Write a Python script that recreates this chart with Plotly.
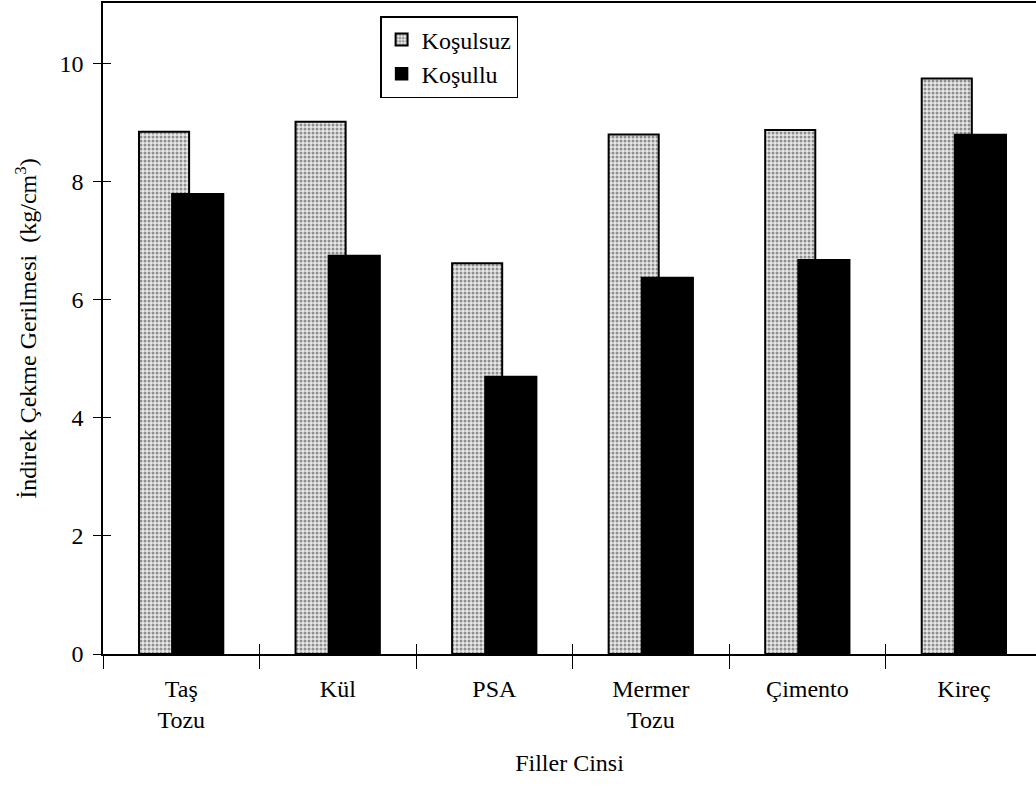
import plotly.graph_objects as go

categories = ["Taş<br>Tozu", "Kül", "PSA", "Mermer<br>Tozu", "Çimento", "Kireç"]
kosulsuz = [8.85, 9.02, 6.62, 8.80, 8.88, 9.75]
kosullu = [7.80, 6.75, 4.70, 6.38, 6.68, 8.80]
yticks = [0, 2, 4, 6, 8, 10]

xpos = list(range(len(categories)))
bounds = [i - 0.5 for i in range(len(categories) + 1)]

FONT = "Liberation Serif, Times New Roman, serif"
FS = 24
XR = [-0.5, 5.46]
YR = [0, 11.03]

fig = go.Figure()
fig.add_trace(go.Bar(
    x=xpos, y=kosulsuz, name="Koşulsuz",
    width=0.32, offset=-0.27,
    marker=dict(color="white", line=dict(color="black", width=2),
                pattern=dict(shape=".", fgcolor="#333", bgcolor="#e8e8e8", size=4, solidity=0.45)),
))
fig.add_trace(go.Bar(
    x=xpos, y=kosullu, name="Koşullu",
    width=0.33, offset=-0.06,
    marker=dict(color="black", line=dict(color="black", width=1.5)),
))
# invisible helper traces to activate the inside-tick overlay axes
fig.add_trace(go.Scatter(x=xpos, y=kosullu, xaxis="x2", yaxis="y",
                         mode="markers", marker=dict(opacity=0), showlegend=False,
                         hoverinfo="skip"))
fig.add_trace(go.Scatter(x=xpos, y=kosullu, xaxis="x", yaxis="y2",
                         mode="markers", marker=dict(opacity=0), showlegend=False,
                         hoverinfo="skip"))

fig.update_layout(
    width=1036, height=790,
    margin=dict(l=103, r=0, t=3, b=136),
    paper_bgcolor="white", plot_bgcolor="white",
    barmode="overlay",
    font=dict(family=FONT, size=FS, color="black"),
    showlegend=True,
    legend=dict(x=0.297, y=0.98, xanchor="left", yanchor="top",
                bordercolor="black", borderwidth=1.5, bgcolor="white",
                font=dict(family=FONT, size=FS), itemwidth=30, tracegroupgap=0),
    xaxis=dict(
        range=XR, automargin=False,
        showline=True, linecolor="black", linewidth=1.5, mirror=True,
        tickmode="array", tickvals=xpos, ticktext=categories, ticks="",
        ticklabelstandoff=12,
        minor=dict(tickmode="array", tickvals=bounds, ticks="outside",
                   ticklen=13, tickwidth=1.2, tickcolor="black", showgrid=False),
        showgrid=False, zeroline=False,
        tickfont=dict(family=FONT, size=FS),
        title=dict(text="Filler Cinsi", font=dict(family=FONT, size=FS), standoff=22),
    ),
    xaxis2=dict(
        overlaying="x", range=XR, automargin=False, anchor="y", side="bottom",
        tickmode="array", tickvals=bounds, ticks="inside", ticklen=10,
        tickwidth=1.2, tickcolor="black",
        showticklabels=False, showgrid=False, showline=False, zeroline=False,
    ),
    yaxis=dict(
        range=YR, tickvals=yticks, automargin=False,
        showline=True, linecolor="black", linewidth=1.5,
        ticks="outside", ticklen=8, tickwidth=1.2, tickcolor="black",
        ticklabelstandoff=5,
        showgrid=False, zeroline=False,
        tickfont=dict(family=FONT, size=FS),
        title=dict(text="İndirek Çekme Gerilmesi  (kg/cm<sup>3</sup>)",
                   font=dict(family=FONT, size=FS), standoff=16),
    ),
    yaxis2=dict(
        overlaying="y", range=YR, automargin=False, anchor="x", side="left",
        tickmode="array", tickvals=yticks, ticks="inside", ticklen=8,
        tickwidth=1.2, tickcolor="black",
        showticklabels=False, showgrid=False, showline=False, zeroline=False,
    ),
)

fig.write_html("out.html", config={"displayModeBar": False},
               post_script="document.body.style.margin='0';")
